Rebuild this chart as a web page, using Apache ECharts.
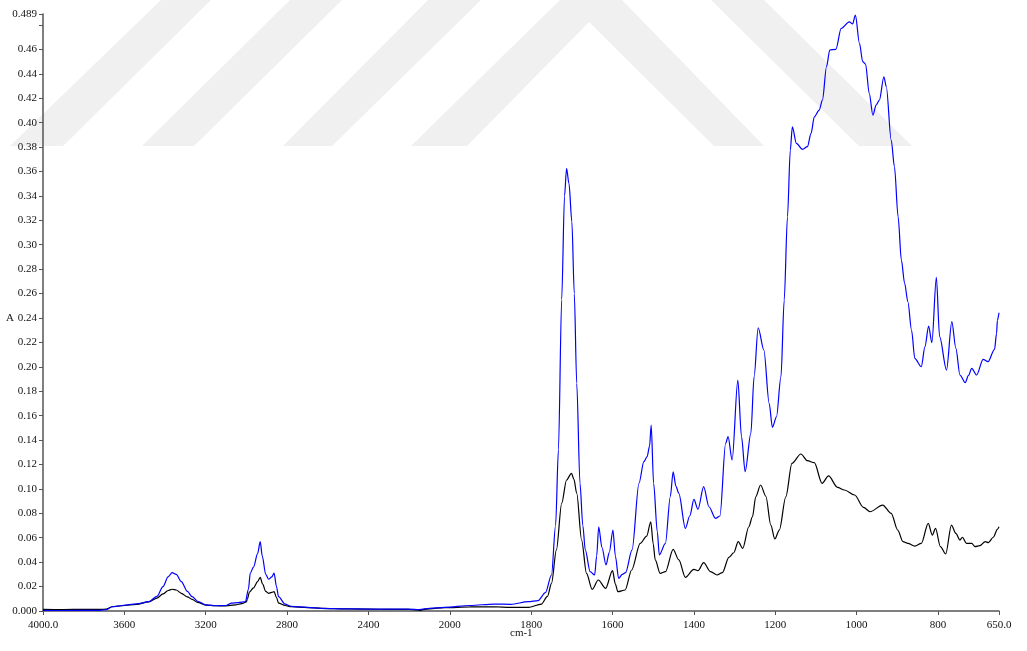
<!DOCTYPE html>
<html>
<head>
<meta charset="utf-8">
<script src="https://cdn.jsdelivr.net/npm/echarts@6/dist/echarts.min.js"></script>
<style>
  html, body { margin: 0; padding: 0; background: #ffffff; }
  #chart { width: 1027px; height: 651px; }
</style>
</head>
<body>
<div id="chart"></div>
<script>
// FTIR absorbance spectra (wavenumber in cm-1, absorbance A)
const blueWavenumber = [
  4000, 3900, 3800, 3720, 3690, 3660, 3610, 3540, 3480, 3440, 3410, 3385, 3365, 3345, 3320, 3290, 3267, 3240, 3200, 3150,
  3100, 3073, 3040, 3005, 2990, 2981, 2965, 2945, 2932, 2922, 2905, 2891, 2875, 2864, 2852, 2842, 2810, 2780, 2700, 2632,
  2500, 2400, 2300, 2200, 2150, 2100, 2025, 1950, 1891, 1850, 1807, 1783, 1765, 1750, 1740, 1733, 1725, 1718, 1713, 1707,
  1700, 1694, 1688, 1680, 1673, 1667, 1655, 1644, 1639, 1634, 1626, 1616, 1608, 1599, 1593, 1585, 1576, 1568, 1552, 1535,
  1523, 1515, 1509, 1505, 1499, 1490, 1485, 1470, 1458, 1451, 1444, 1437, 1421, 1410, 1400, 1390, 1376, 1363, 1347, 1336,
  1322, 1316, 1306, 1292, 1283, 1274, 1260, 1252, 1242, 1228, 1215, 1207, 1197, 1186, 1178, 1170, 1163, 1158, 1148, 1133,
  1121, 1112, 1104, 1092, 1084, 1074, 1066, 1051, 1038, 1018, 1010, 1003, 993, 985, 978, 969, 960, 952, 944, 933,
  927, 915, 907, 898, 890, 882, 874, 865, 857, 841, 832, 823, 815, 804, 796, 779, 766, 756, 746, 733,
  725, 717, 705, 689, 677, 661, 656, 654, 650
];
const blueAbsorbance = [
  0.0005, 0.0004, 0.0006, 0.0005, 0.0012, 0.0035, 0.0045, 0.0058, 0.0076, 0.0120, 0.0200, 0.0280, 0.0314, 0.0300, 0.0240, 0.0160, 0.0117, 0.0080, 0.0050, 0.0043,
  0.0045, 0.0065, 0.0068, 0.0076, 0.0180, 0.0310, 0.0360, 0.0470, 0.0568, 0.0450, 0.0300, 0.0260, 0.0280, 0.0310, 0.0200, 0.0117, 0.0057, 0.0038, 0.0030, 0.0022,
  0.0018, 0.0016, 0.0015, 0.0015, 0.0012, 0.0022, 0.0030, 0.0045, 0.0057, 0.0055, 0.0076, 0.0085, 0.0150, 0.0295, 0.0700, 0.1320, 0.2550, 0.3400, 0.3626, 0.3500,
  0.3190, 0.2600, 0.1865, 0.1046, 0.0700, 0.0500, 0.0322, 0.0295, 0.0450, 0.0690, 0.0520, 0.0377, 0.0480, 0.0663, 0.0450, 0.0268, 0.0300, 0.0314, 0.0500, 0.1046,
  0.1223, 0.1264, 0.1350, 0.1523, 0.1046, 0.0650, 0.0459, 0.0554, 0.0936, 0.1140, 0.1020, 0.0964, 0.0677, 0.0780, 0.0914, 0.0833, 0.1018, 0.0854, 0.0759, 0.0778,
  0.1373, 0.1428, 0.1237, 0.1892, 0.1428, 0.1141, 0.1455, 0.1919, 0.2320, 0.2138, 0.1701, 0.1504, 0.1590, 0.1919, 0.2547, 0.3229, 0.3776, 0.3966, 0.3830, 0.3781,
  0.3803, 0.3912, 0.4048, 0.4103, 0.4185, 0.4458, 0.4595, 0.4600, 0.4772, 0.4826, 0.4808, 0.4881, 0.4650, 0.4500, 0.4480, 0.4240, 0.4062, 0.4144, 0.4185, 0.4376,
  0.4294, 0.3857, 0.3639, 0.3229, 0.2875, 0.2684, 0.2533, 0.2301, 0.2070, 0.2001, 0.2165, 0.2334, 0.2198, 0.2733, 0.2247, 0.1974, 0.2370, 0.2151, 0.1933, 0.1870,
  0.1930, 0.1988, 0.1933, 0.2061, 0.2042, 0.2143, 0.2274, 0.2380, 0.2443
];

const blackWavenumber = [
  4000, 3900, 3800, 3720, 3690, 3660, 3610, 3540, 3480, 3440, 3410, 3385, 3365, 3345, 3320, 3290, 3267, 3240, 3200, 3150,
  3100, 3054, 3022, 3000, 2995, 2985, 2965, 2945, 2932, 2920, 2905, 2891, 2875, 2864, 2852, 2842, 2810, 2780, 2700, 2632,
  2500, 2400, 2300, 2200, 2160, 2145, 2130, 2100, 2025, 1950, 1891, 1850, 1807, 1775, 1760, 1750, 1738, 1725, 1713, 1701,
  1695, 1688, 1676, 1664, 1650, 1635, 1617, 1600, 1593, 1587, 1569, 1553, 1532, 1516, 1506, 1500, 1495, 1483, 1470, 1451,
  1437, 1421, 1400, 1390, 1376, 1359, 1343, 1330, 1314, 1302, 1291, 1280, 1265, 1256, 1248, 1236, 1223, 1211, 1201, 1190,
  1174, 1159, 1137, 1121, 1104, 1085, 1069, 1047, 1030, 1005, 983, 967, 936, 915, 899, 886, 874, 857, 841, 824,
  814, 806, 794, 781, 767, 756, 746, 740, 730, 717, 709, 697, 684, 676, 664, 654, 650
];
const blackAbsorbance = [
  0.0013, 0.0012, 0.0014, 0.0013, 0.0015, 0.0035, 0.0043, 0.0055, 0.0074, 0.0105, 0.0140, 0.0168, 0.0178, 0.0172, 0.0145, 0.0115, 0.0096, 0.0070, 0.0048, 0.0043,
  0.0042, 0.0050, 0.0060, 0.0075, 0.0100, 0.0155, 0.0190, 0.0240, 0.0275, 0.0220, 0.0160, 0.0145, 0.0152, 0.0158, 0.0110, 0.0065, 0.0045, 0.0035, 0.0028, 0.0022,
  0.0017, 0.0015, 0.0014, 0.0013, 0.0010, 0.0003, 0.0012, 0.0018, 0.0028, 0.0033, 0.0035, 0.0030, 0.0030, 0.0057, 0.0120, 0.0227, 0.0500, 0.0882, 0.1073, 0.1128,
  0.1080, 0.0964, 0.0581, 0.0309, 0.0178, 0.0254, 0.0186, 0.0330, 0.0220, 0.0158, 0.0172, 0.0336, 0.0554, 0.0614, 0.0731, 0.0550, 0.0418, 0.0309, 0.0322, 0.0505,
  0.0418, 0.0276, 0.0341, 0.0330, 0.0396, 0.0322, 0.0295, 0.0314, 0.0440, 0.0477, 0.0568, 0.0513, 0.0690, 0.0772, 0.0936, 0.1032, 0.0940, 0.0704, 0.0590, 0.0663,
  0.0936, 0.1209, 0.1286, 0.1231, 0.1215, 0.1046, 0.1106, 0.1013, 0.0991, 0.0950, 0.0849, 0.0813, 0.0868, 0.0800, 0.0663, 0.0568, 0.0554, 0.0532, 0.0554, 0.0718,
  0.0622, 0.0677, 0.0527, 0.0467, 0.0704, 0.0636, 0.0581, 0.0604, 0.0554, 0.0554, 0.0527, 0.0535, 0.0568, 0.0560, 0.0604, 0.0669, 0.0690
];

// Tick labels of the wavenumber axis, one per 200 axis units, plus the end label
const xTickLabels = ['4000.0', '3600', '3200', '2800', '2400', '2000', '1800', '1600', '1400', '1200', '1000', '800'];
const xEndLabel = '650.0';

// The spectrometer plots 4000-2000 cm-1 at half the scale of 2000-650 cm-1.
function toAxis(w) {
  return w >= 2000 ? (4000 - w) / 2 : 1000 + (2000 - w);
}
const AXIS_END = toAxis(650);

function pairs(wn, ab) {
  return wn.map((w, i) => [toAxis(w), ab[i]]);
}

const chart = echarts.init(document.getElementById('chart'), null, { renderer: 'canvas' });

const serif = 'Liberation Serif, Times New Roman, serif';
const bandColor = '#f0f0f0';
const bands = [
  [[161, 0], [211, 0], [63, 146], [10, 146]],
  [[290, 0], [342, 0], [194, 146], [142, 146]],
  [[428, 0], [481, 0], [332, 146], [283, 146]],
  [[560, 0], [622, 0], [764, 146], [714, 146], [589, 22], [467, 146], [411, 146]],
  [[711, 0], [764, 0], [912, 146], [859, 146]]
];

chart.setOption({
  backgroundColor: '#ffffff',
  animation: false,
  graphic: {
    elements: bands.map(pts => ({
      type: 'polygon',
      z: -10,
      silent: true,
      shape: { points: pts },
      style: { fill: bandColor }
    })).concat([
      { type: 'text', left: 6, top: 313, z: 10,
        style: { text: 'A', font: '11px ' + serif, fill: '#111' } },
      { type: 'text', left: 510, top: 628, z: 10,
        style: { text: 'cm-1', font: '11px ' + serif, fill: '#111' } }
    ])
  },
  grid: { left: 43, right: 28, top: 14, bottom: 40, containLabel: false, outerBoundsMode: 'none' },
  xAxis: {
    type: 'value',
    min: 0,
    max: AXIS_END,
    interval: 200,
    splitLine: { show: false },
    axisLine: { lineStyle: { color: '#555', width: 1.5 } },
    axisTick: { length: 4, lineStyle: { color: '#555', width: 1 } },
    axisLabel: {
      margin: 9,
      fontFamily: serif,
      fontSize: 11,
      color: '#111',
      showMinLabel: true,
      showMaxLabel: true,
      formatter: v => (Math.abs(v - AXIS_END) < 1e-6 ? xEndLabel : (xTickLabels[Math.round(v / 200)] || ''))
    }
  },
  yAxis: {
    type: 'value',
    min: 0,
    max: 0.489,
    interval: 0.02,
    splitLine: { show: false },
    axisLine: { show: true, lineStyle: { color: '#555', width: 1.5 } },
    axisTick: { show: true, length: 4, lineStyle: { color: '#555', width: 1 } },
    axisLabel: {
      margin: 6,
      padding: [0, 0, 3, 0],
      fontFamily: serif,
      fontSize: 11,
      color: '#111',
      showMinLabel: true,
      showMaxLabel: true,
      formatter: v => {
        if (v === 0) return '0.000';
        if (v >= 0.4889) return '0.489';
        if (Math.abs(v - 0.48) < 1e-6) return '';
        return v.toFixed(2);
      }
    }
  },
  series: [
    {
      type: 'line',
      name: 'black',
      data: pairs(blackWavenumber, blackAbsorbance),
      showSymbol: false,
      smooth: 0.3,
      smoothMonotone: 'x',
      lineStyle: { color: '#000000', width: 1.2 },
      z: 3
    },
    {
      type: 'line',
      name: 'blue',
      data: pairs(blueWavenumber, blueAbsorbance),
      showSymbol: false,
      smooth: 0.3,
      smoothMonotone: 'x',
      lineStyle: { color: '#0000ff', width: 1.2 },
      z: 4
    }
  ]
});
</script>
</body>
</html>
